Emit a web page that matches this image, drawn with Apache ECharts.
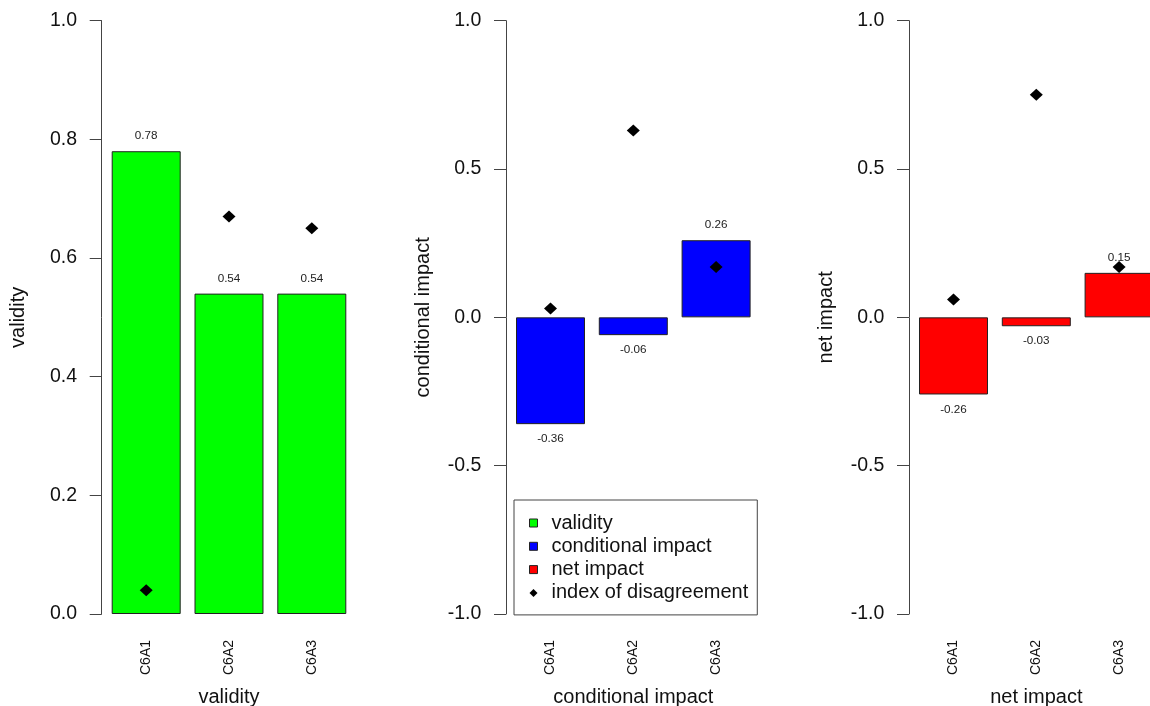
<!DOCTYPE html>
<html>
<head>
<meta charset="utf-8">
<script src="https://cdn.jsdelivr.net/npm/echarts@6/dist/echarts.min.js"></script>
<style>
html,body{margin:0;padding:0;background:#fff;}
#chart{width:1150px;height:706px;}
</style>
</head>
<body>
<div id="chart"></div>
<script>
// ---- data ----
const categories = ['C6A1', 'C6A2', 'C6A3'];
const validity = [0.78, 0.54, 0.54];
const conditionalImpact = [-0.36, -0.06, 0.26];
const netImpact = [-0.26, -0.03, 0.15];
const disagreementValidity = [0.04, 0.67, 0.65];
const disagreementConditional = [0.03, 0.63, 0.17];
const disagreementNet = [0.06, 0.75, 0.17];
const validityTicks = [0, 0.2, 0.4, 0.6, 0.8, 1.0];
const impactTicks = [-1.0, -0.5, 0, 0.5, 1.0];
const panelTitles = ['validity', 'conditional impact', 'net impact'];
const legendNames = ['validity', 'conditional impact', 'net impact', 'index of disagreement'];

// ---- styles ----
const FONT = '"Liberation Sans", Arial, Helvetica, sans-serif';
const colors = ['#00ff00', '#0000ff', '#ff0000'];
const axisLefts = [101.7, 506, 909];
const OFFSET = 3.1;
const BAND = 82.8;

const grids = axisLefts.map(a => ({
  left: a + OFFSET, top: 20.7, width: BAND * 3, height: 593.3,
  containLabel: false, outerBoundsMode: 'none'
}));

const xAxes = panelTitles.map((t, i) => ({
  type: 'category', gridIndex: i, data: categories,
  position: 'bottom',
  axisLine: { show: false, onZero: false }, axisTick: { show: false },
  axisLabel: { rotate: 90, margin: 26, fontSize: 14, color: '#111', fontFamily: FONT },
  name: t, nameLocation: 'middle', nameGap: 73,
  nameTextStyle: { fontSize: 20, color: '#111', fontFamily: FONT }
}));

function yAxis(i, ticks) {
  return {
    type: 'value', gridIndex: i,
    min: ticks[0], max: ticks[ticks.length - 1], interval: ticks[1] - ticks[0],
    offset: OFFSET,
    axisLine: { show: true, lineStyle: { color: '#444', width: 1 } },
    axisTick: { show: true, length: 12, lineStyle: { color: '#444', width: 1 } },
    splitLine: { show: false },
    axisLabel: { margin: 24.7, fontSize: 19.5, color: '#111', fontFamily: FONT,
      formatter: v => v.toFixed(1) },
    name: panelTitles[i], nameLocation: 'middle', nameGap: 73, nameRotate: 90,
    nameTextStyle: { fontSize: 20, color: '#111', fontFamily: FONT }
  };
}
const yAxes = [yAxis(0, validityTicks), yAxis(1, impactTicks), yAxis(2, impactTicks)];

function barData(vals) {
  return vals.map(v => ({
    value: v,
    label: { position: v >= 0 ? 'top' : 'bottom' }
  }));
}
function barSeries(name, vals, i) {
  return {
    type: 'bar', name: name, xAxisIndex: i, yAxisIndex: i,
    data: barData(vals), barWidth: '83.33%',
    itemStyle: { color: colors[i], borderColor: '#222', borderWidth: 1 },
    label: { show: true, distance: 9, fontSize: 11.7, color: '#222', fontFamily: FONT,
      formatter: p => p.value.toFixed(2) },
    emphasis: { disabled: true }, animation: false, z: 2
  };
}
function diamondSeries(vals, i) {
  return {
    type: 'scatter', name: 'index of disagreement', xAxisIndex: i, yAxisIndex: i,
    data: vals, symbol: 'diamond', symbolSize: [13, 12],
    itemStyle: { color: '#000', opacity: 1 }, emphasis: { disabled: true }, animation: false, z: 3
  };
}

const series = [
  barSeries('validity', validity, 0),
  barSeries('conditional impact', conditionalImpact, 1),
  barSeries('net impact', netImpact, 2),
  diamondSeries(disagreementValidity, 0),
  diamondSeries(disagreementConditional, 1),
  diamondSeries(disagreementNet, 2)
];

const legendData = legendNames.map((n, k) => k < 3
  ? { name: n, icon: 'rect', itemStyle: { color: colors[k], borderColor: '#222', borderWidth: 1 } }
  : { name: n, icon: 'diamond', itemStyle: { color: '#000', borderWidth: 0 } });

const option = {
  backgroundColor: '#fff',
  animation: false,
  grid: grids,
  xAxis: xAxes,
  yAxis: yAxes,
  legend: {
    data: legendData, orient: 'vertical', left: 514, top: 500,
    itemWidth: 8, itemHeight: 8, itemGap: 3.3,
    padding: [13, 9, 12, 15],
    borderColor: '#444', borderWidth: 1, backgroundColor: '#fff',
    selectedMode: false,
    textStyle: { fontSize: 20, lineHeight: 20, color: '#111', fontFamily: FONT, padding: [0, 0, 0, 9] }
  },
  series: series
};

const chart = echarts.init(document.getElementById('chart'), null, { renderer: 'canvas' });
chart.setOption(option);
</script>
</body>
</html>
